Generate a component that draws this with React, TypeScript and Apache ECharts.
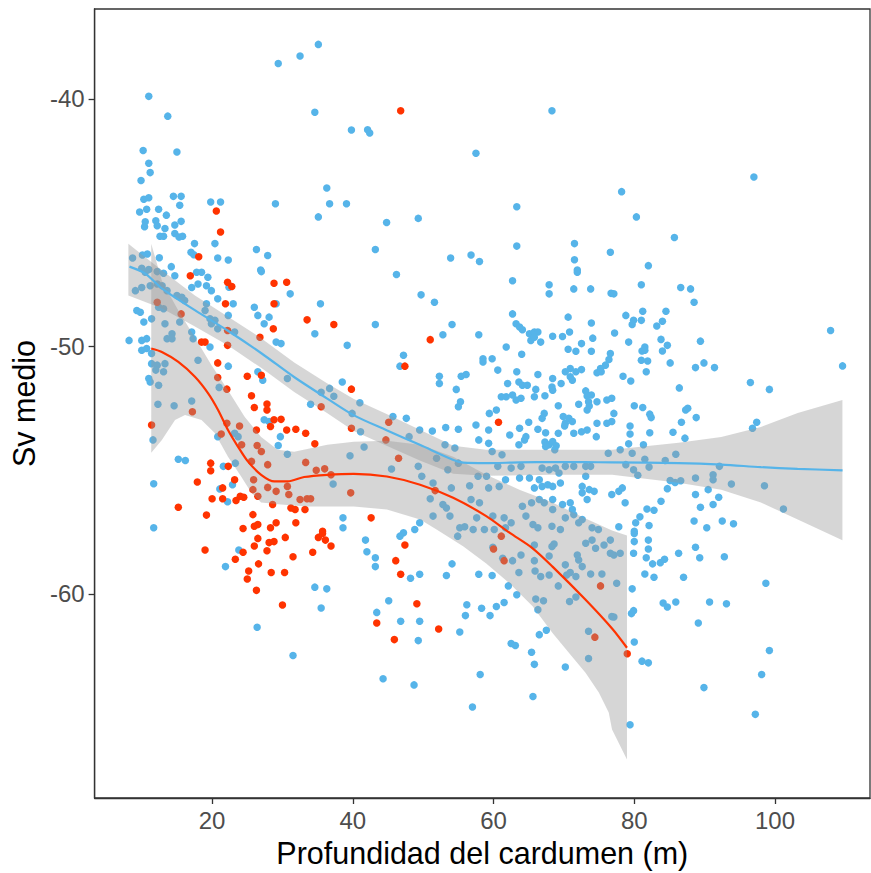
import React, { useEffect, useRef } from "react";
import * as echarts from "echarts";

// Sv medio (dB) against school depth (m), by group
const bluePoints: [number, number][] = [
  [35.1,-37.8],[32.5,-38.27],[29.4,-38.57],[11.0,-39.9],[13.7,-40.7],[34.6,-40.54],[39.8,-41.26],[10.2,-42.09],[15.0,-42.15],[11.0,-42.6],[11.2,-42.98],[9.9,-43.3],[36.3,-43.6],[29.0,-44.24],[36.7,-44.24],[39.1,-44.24],[35.1,-44.77],[10.3,-44.06],[11.0,-44.0],[14.5,-43.94],[15.6,-43.94],[15.4,-44.3],[19.8,-44.17],[21.2,-44.17],[9.7,-44.57],[10.7,-44.46],[12.4,-44.46],[13.5,-44.7],[10.5,-44.97],[10.4,-45.17],[12.0,-44.93],[12.2,-45.13],[13.3,-45.24],[14.7,-45.1],[15.6,-44.95],[12.6,-45.55],[13.1,-45.55],[14.7,-45.44],[15.3,-45.58],[15.8,-45.55],[17.5,-45.85],[20.4,-45.85],[17.0,-46.2],[17.4,-46.3],[20.8,-46.43],[22.3,-46.51],[26.3,-46.09],[27.9,-46.33],[8.7,-46.43],[10.1,-46.31],[10.8,-46.27],[12.5,-46.42],[14.2,-46.78],[26.9,-46.92],[10.0,-46.85],[11.0,-46.9],
  [42.1,-41.25],[42.4,-41.38],[68.3,-40.48],[57.5,-42.2],[63.3,-44.36],[44.8,-45.0],[49.3,-44.83],[43.2,-46.09],[53.9,-46.43],[56.8,-46.31],[58.0,-46.57],[63.3,-45.95],[71.5,-45.85],[71.5,-46.5],[71.9,-46.92],[76.6,-46.2],
  [97.0,-43.16],[78.2,-43.75],[80.3,-44.77],[85.7,-45.6],[82.0,-46.74],
  [10.5,-47.01],[12.2,-46.98],[13.1,-47.05],[14.7,-47.15],[17.8,-47.01],[18.5,-47.01],[19.4,-47.21],[27.0,-46.98],[22.4,-47.61],[31.1,-47.88],[9.1,-47.75],[10.0,-47.62],[11.2,-47.55],[12.2,-47.48],[12.9,-47.55],[13.6,-47.75],[15.0,-47.95],[15.7,-48.02],[16.1,-48.15],[17.1,-47.62],[18.0,-47.48],[19.2,-47.55],[19.9,-47.75],[20.8,-48.08],[23.0,-48.28],[22.3,-48.75],[19.2,-48.28],[19.0,-48.55],[19.7,-48.89],[20.4,-48.95],[19.9,-49.09],[20.8,-49.29],[9.3,-48.55],[9.8,-48.62],[10.3,-49.02],[11.4,-48.89],[12.4,-48.42],[13.1,-48.48],[15.4,-49.02],[13.3,-49.09],[14.3,-49.49],[13.6,-49.69],[14.3,-49.69],[8.2,-49.76],[10.0,-49.76],[10.7,-49.69],[10.0,-50.16],[10.7,-50.09],[11.4,-50.29],[17.1,-49.42],[17.3,-49.69],[19.7,-50.03],[23.2,-49.42],[26.0,-48.42],[26.5,-48.75],[27.4,-49.09],[28.1,-48.82],[29.1,-48.28],[35.4,-48.28],[34.6,-49.49],[29.1,-49.83],[29.8,-49.89],[39.2,-49.96],[18.0,-50.56],[11.4,-50.7],[12.2,-50.76],[13.3,-50.7],[13.1,-51.03],[12.0,-50.96],[11.0,-51.3],[11.2,-51.44],[12.4,-51.57],[22.3,-50.8],[26.5,-51.03],[27.2,-51.37],[21.0,-51.66],[30.7,-51.3],[38.5,-51.44],[36.7,-51.7],[35.5,-51.86],[34.0,-52.34],[37.3,-52.02],[39.9,-52.71],[17.1,-52.21],[14.6,-52.4],[12.3,-52.34],[11.6,-53.78],[27.4,-52.97],[28.1,-53.04],[23.2,-53.51],[23.7,-53.65],[20.8,-53.65],[29.7,-53.65],[29.4,-54.01],[30.7,-54.36],[15.2,-54.56],[16.2,-54.61],[11.7,-55.55],[21.6,-54.85],[23.3,-54.72],[21.1,-55.76],[22.9,-55.59],[22.2,-56.28],[37.2,-55.56],[11.7,-57.33],[38.6,-56.93],[38.6,-57.33],[39.6,-54.42],
  [23.8,-58.23],[21.9,-58.9],[34.6,-59.73],[36.3,-59.8],[35.5,-60.57],[26.4,-61.35],[31.5,-62.49],
  [46.2,-47.1],[62.7,-47.35],[71.9,-47.01],[67.9,-47.51],[67.9,-47.88],[71.4,-47.68],[73.8,-47.68],[76.7,-47.86],[49.7,-47.92],[51.6,-48.22],[43.2,-49.12],[54.1,-49.12],[52.8,-49.53],[57.9,-49.53],[62.7,-48.69],[63.2,-49.09],[63.7,-49.22],[64.1,-49.33],[65.1,-49.49],[65.8,-49.42],[66.3,-49.42],[65.3,-49.76],[65.8,-49.63],[66.7,-49.83],[68.4,-49.59],[69.8,-49.6],[70.8,-49.42],[70.6,-48.82],[73.9,-49.06],[74.1,-49.67],[72.5,-49.89],[61.8,-50.03],[47.2,-50.36],[46.7,-50.8],[58.5,-50.5],[58.5,-50.63],[59.8,-50.5],[64.0,-50.32],[70.6,-50.12],[71.7,-50.2],[73.9,-50.2],[76.6,-50.29],[76.4,-50.53],[75.9,-50.76],[75.2,-50.9],[74.7,-51.07],[75.3,-51.03],[60.6,-50.96],[63.3,-51.03],[66.3,-51.14],[70.2,-51.03],[70.9,-50.9],[71.7,-51.03],[72.5,-50.94],[68.4,-51.3],[70.9,-51.23],[71.2,-51.37],[52.3,-51.21],[52.3,-51.5],[55.4,-51.21],[56.1,-51.14],[54.7,-51.74],[62.0,-51.5],[63.6,-51.44],[64.1,-51.57],[64.8,-51.57],[66.0,-51.74],[68.3,-51.64],[68.4,-51.77],[69.6,-51.5],[73.1,-51.8],[73.3,-52.01],[73.9,-51.97],[74.7,-52.24],[73.5,-52.24],[73.6,-52.41],[73.3,-52.57],[76.1,-52.17],[76.8,-52.1],[61.1,-52.04],[61.8,-52.04],[62.7,-51.97],[63.2,-52.17],[63.9,-52.1],[65.8,-52.04],[67.3,-52.0],[55.3,-52.24],[55.0,-52.44],[69.2,-52.4],[72.1,-52.34],[67.2,-52.71],[66.9,-52.91],[69.9,-52.84],[70.2,-53.11],[70.7,-52.91],[71.2,-53.04],[70.1,-53.22],[59.4,-52.71],[60.4,-52.57],[45.7,-52.84],[47.6,-52.91],[57.5,-53.18],[59.3,-53.38],[53.2,-53.28],[55.0,-53.35],[51.3,-53.42],[49.5,-53.38],[62.3,-53.58],[63.7,-53.31],[65.0,-53.07],[66.3,-53.35],[67.4,-53.49],[69.2,-53.51],[71.4,-53.51],[72.5,-53.45],[73.3,-53.38],[74.7,-53.11],[76.1,-53.11],[76.8,-53.04],[74.6,-53.65],[57.9,-53.78],[59.3,-53.92],[63.6,-53.98],[64.4,-53.78],[64.6,-53.65],[67.3,-53.87],[67.9,-53.98],[68.4,-53.85],[68.9,-54.02],[68.7,-54.18],[67.4,-54.05],[41.0,-52.28],[41.1,-53.45],[41.6,-54.07],[48.0,-53.65],[53.1,-53.98],[54.5,-54.11],[51.9,-54.52],[53.5,-54.99],[55.0,-54.72],[45.5,-54.96],[49.3,-54.85],[49.8,-55.25],[57.8,-55.25],[59.0,-55.25],[59.8,-54.25],[61.2,-54.38],[60.6,-54.85],[61.7,-55.39],[63.7,-55.32],[65.1,-55.32],[66.5,-55.39],[62.5,-54.92],[63.9,-54.85],[66.9,-54.92],[67.9,-54.99],[68.8,-54.92],[69.3,-55.12],[70.2,-54.85],[71.4,-54.85],[73.1,-54.85],[73.8,-54.85],[73.1,-55.25],[76.3,-54.32],[65.8,-55.72],[66.9,-55.66],[67.7,-55.59],[68.4,-55.66],[69.5,-55.52],[72.6,-55.66],[73.6,-55.79],[74.3,-55.86],[73.3,-56.19],[72.6,-55.92],[68.4,-56.19],[69.8,-56.39],[70.9,-56.32],[71.2,-56.59],[65.4,-56.32],[66.5,-56.19],[67.2,-56.32],[68.4,-56.59],[70.2,-56.93],[71.4,-56.8],[72.6,-57.0],[64.1,-56.46],[64.6,-56.86],[65.6,-57.2],[66.3,-57.33],[68.3,-57.27],[69.5,-57.4],[72.1,-57.13],[74.0,-57.33],[74.9,-57.4],[54.0,-55.72],[56.6,-55.63],[59.3,-55.72],[60.8,-55.66],[51.0,-56.16],[51.4,-55.52],[52.8,-56.39],[53.3,-56.53],[53.8,-56.86],[56.8,-56.19],[58.0,-56.32],[57.6,-56.93],[59.9,-56.86],[61.5,-56.93],[62.5,-57.13],[51.4,-56.86],[49.5,-57.13],[48.8,-57.4],[47.2,-57.53],[55.2,-57.33],[55.9,-57.29],[57.1,-57.4],[58.7,-57.4],[60.1,-57.4],[61.7,-57.33],
  [81.0,-47.51],[86.6,-47.62],[88.0,-47.68],[88.5,-48.22],[77.1,-47.88],[78.8,-48.75],[79.9,-48.95],[79.7,-49.12],[81.0,-48.95],[81.2,-48.58],[83.2,-49.18],[84.0,-48.99],[84.5,-48.58],[77.2,-49.46],[79.2,-49.83],[81.5,-50.03],[81.1,-50.19],[81.5,-50.16],[81.0,-50.56],[81.9,-50.59],[81.7,-51.03],[83.8,-49.72],[84.7,-49.96],[84.0,-50.19],[85.1,-50.67],[89.4,-49.79],[88.7,-50.86],[89.9,-50.67],[91.4,-50.86],[107.9,-49.36],[109.6,-50.79],[96.5,-51.46],[99.2,-51.74],[78.4,-51.21],[79.5,-51.4],[86.4,-51.68],[77.1,-52.71],[80.0,-52.4],[81.2,-52.47],[82.2,-52.74],[82.4,-52.88],[87.3,-52.57],[87.6,-52.5],[88.8,-52.88],[86.7,-53.07],[85.5,-53.47],[87.2,-53.71],[79.4,-53.22],[79.4,-53.54],[82.2,-53.49],[79.2,-53.94],[81.3,-53.98],[97.4,-53.07],[96.8,-53.31],[78.0,-54.18],[79.7,-54.32],[81.5,-54.56],[82.1,-54.88],[84.4,-54.61],[85.9,-54.36],[78.8,-54.78],[79.9,-54.99],[80.5,-55.21],[92.1,-54.85],[91.2,-55.19],[91.2,-55.39],[88.7,-55.32],[93.8,-55.56],[98.5,-55.63],[101.2,-56.57],[85.1,-55.42],[85.8,-55.5],[86.6,-55.43],[84.7,-55.75],[76.8,-55.99],[77.8,-55.86],[78.3,-55.72],[78.7,-56.32],[88.7,-55.99],[90.5,-55.79],[92.0,-56.1],[91.2,-56.39],[89.4,-56.5],[83.8,-56.26],[81.8,-56.57],[82.8,-56.62],[80.8,-56.89],[80.2,-57.13],[82.1,-57.24],[77.8,-57.29],[80.0,-57.47],[88.5,-57.06],[90.3,-57.33],[92.5,-57.06],[94.1,-57.17],
  [41.8,-57.83],[42.0,-58.3],[43.2,-58.54],[43.2,-58.9],[46.7,-57.67],[48.2,-59.37],[49.5,-59.21],[54.1,-58.79],[53.3,-59.26],[57.9,-59.21],[59.8,-59.26],[62.1,-59.68],[63.3,-60.04],[45.1,-60.28],[43.4,-60.75],[46.8,-61.11],[49.5,-61.11],[49.3,-61.89],[56.2,-60.44],[56.0,-60.88],[55.2,-61.54],[58.3,-60.58],[59.5,-60.88],[60.4,-60.51],[61.5,-60.35],[62.5,-62.01],[63.1,-62.09],[65.4,-62.36],[65.8,-62.85],[66.5,-61.65],[67.5,-61.47],[70.2,-62.96],[44.3,-63.43],[48.7,-63.68],[58.1,-63.26],[57.0,-64.57],[65.6,-64.15],[54.9,-57.67],[59.9,-58.12],[61.3,-58.56],[62.7,-58.66],[63.9,-58.43],[65.8,-58.03],[65.8,-58.66],[63.6,-59.14],[65.9,-59.08],[66.7,-59.3],[67.9,-59.24],[67.9,-58.47],[68.3,-58.09],[68.6,-57.99],[66.0,-60.21],[67.1,-60.28],[66.3,-60.64],[69.2,-59.68],[70.8,-60.31],[71.7,-60.13],[70.4,-59.24],[70.9,-59.14],[71.7,-59.3],[70.2,-58.83],[72.1,-58.63],[72.6,-58.9],[73.8,-59.2],[73.1,-57.96],[74.0,-57.83],[74.5,-58.16],[75.7,-58.03],[76.6,-57.83],[75.4,-59.2],[76.6,-58.36],[71.9,-58.43],[76.8,-60.92],[73.5,-61.51],[73.5,-62.61],
  [80.0,-57.56],[80.0,-57.89],[82.0,-57.83],[82.0,-58.19],[79.9,-58.36],[78.0,-58.36],[77.1,-58.43],[81.7,-58.54],[82.6,-58.79],[83.7,-58.74],[84.3,-58.6],[86.3,-58.36],[88.7,-58.12],[89.3,-58.54],[92.8,-58.5],[81.5,-59.2],[82.8,-59.33],[87.0,-59.33],[77.5,-59.57],[79.7,-59.8],[98.7,-59.57],[84.1,-60.37],[84.7,-60.53],[85.9,-60.33],[90.7,-60.33],[93.1,-60.4],[79.6,-60.8],[79.9,-60.68],[77.1,-60.94],[89.1,-61.18],[80.0,-61.95],[81.1,-62.72],[82.0,-62.79],[99.2,-62.29],[98.1,-63.26],[89.9,-63.79],[97.2,-64.87],[79.4,-65.29],
];

const redPoints: [number, number][] = [
  [20.6,-44.53],[21.2,-45.38],[18.1,-46.38],[46.8,-40.48],
  [16.9,-47.15],[22.2,-47.41],[22.8,-47.58],[28.8,-47.45],[30.6,-47.41],[21.9,-48.28],[12.2,-48.22],[15.6,-48.69],[18.5,-49.83],[19.0,-49.83],[22.2,-49.36],[22.2,-49.96],[26.8,-49.63],[28.8,-48.28],[28.7,-49.29],[33.5,-48.93],[37.3,-49.12],[20.8,-50.67],[20.8,-51.26],[25.0,-51.21],[27.0,-51.17],[22.1,-51.73],[25.6,-52.0],[26.0,-52.47],[27.8,-52.33],[27.8,-52.57],[39.8,-51.73],[35.5,-52.44],[17.2,-52.64],[11.4,-53.18],[28.8,-52.97],[29.8,-52.95],[28.3,-53.24],[22.1,-53.11],[23.9,-53.22],[21.3,-53.54],[26.3,-53.38],[30.6,-53.38],[31.9,-53.35],[33.3,-53.51],[34.6,-53.94],[24.2,-53.98],[26.4,-54.01],[27.0,-54.25],[19.8,-54.72],[19.8,-55.03],[22.3,-54.85],[17.9,-55.48],[23.2,-55.39],[21.5,-55.72],[20.0,-56.16],[21.5,-56.16],[23.4,-56.23],[24.0,-56.06],[24.5,-56.1],[25.6,-54.65],[25.9,-55.39],[25.8,-55.79],[26.5,-56.06],[27.9,-54.78],[27.9,-55.7],[29.1,-55.86],[30.7,-55.66],[30.9,-55.99],[33.3,-54.69],[34.8,-55.01],[36.0,-54.95],[36.9,-55.19],[32.5,-56.19],[33.5,-56.16],[34.0,-56.16],[33.2,-56.59],[31.2,-56.53],[31.8,-56.59],[28.6,-56.39],[25.8,-56.8],[15.2,-56.5],[19.2,-56.82],[24.4,-57.36],[26.0,-57.27],[26.5,-57.2],[28.3,-57.33],[29.1,-57.13],[31.9,-57.13],[35.7,-57.47],[39.7,-55.92],[39.8,-53.31],
  [19.0,-58.23],[24.4,-58.32],[23.3,-58.6],[25.2,-59.08],[25.0,-59.4],[26.6,-58.79],[26.0,-58.07],[26.5,-57.76],[27.8,-58.26],[28.1,-57.93],[28.8,-57.89],[28.4,-59.14],[30.3,-59.14],[30.4,-57.72],[31.5,-58.5],[26.3,-59.86],[30.0,-60.45],[34.3,-58.32],[35.1,-57.72],[36.1,-57.83],[36.9,-58.07],[35.7,-57.56],
  [51.0,-49.73],[47.4,-50.8],[60.7,-53.07],[45.1,-53.07],[44.7,-53.78],[46.5,-54.52],[42.6,-56.93],[51.7,-55.83],
  [47.4,-58.03],[46.1,-58.66],[46.8,-59.21],[49.1,-60.4],[43.4,-61.18],[45.9,-61.85],[52.2,-61.42],[61.1,-57.67],[60.0,-58.19],[61.5,-58.66],[75.2,-59.68],[74.4,-61.75],
  [79.0,-62.42],
];

// Loess fits
const blueFit: [number, number][] = [
  [8.26,-46.78],[10.5,-47.06],[12.9,-47.67],[17.6,-48.55],[22.2,-49.36],[27.0,-50.28],[31.7,-51.25],[36.3,-52.1],[40.1,-52.78],[44.8,-53.39],[49.6,-53.99],[54.3,-54.59],[55.7,-54.7],[58.9,-54.72],[63.7,-54.69],[68.4,-54.68],[73.0,-54.68],[76.8,-54.69],[86.3,-54.72],[92.4,-54.78],[98.0,-54.88],[103.2,-54.95],[109.6,-55.01],
];
const redFit: [number, number][] = [
  [11.35,-50.09],[12.86,-50.23],[15.2,-50.63],[17.56,-51.23],[19.44,-51.9],[20.85,-52.57],[22.26,-53.38],[23.67,-54.05],[25.08,-54.65],[26.97,-55.19],[28.85,-55.46],[30.73,-55.46],[33.08,-55.28],[36.37,-55.19],[40.14,-55.15],[44.84,-55.26],[49.56,-55.59],[54.26,-56.12],[58.96,-56.86],[62.26,-57.53],[65.55,-58.16],[68.38,-58.9],[73.08,-60.24],[76.84,-61.4],[78.96,-62.18],
];

// Confidence bands (upper and lower edges)
const blueUpper: [number, number][] = [
  [8.1,-45.86],[12.9,-46.94],[17.56,-47.95],[22.22,-48.79],[27.02,-49.68],[31.67,-50.65],[36.33,-51.49],[40.14,-52.13],[44.8,-52.73],[49.6,-53.38],[54.26,-54.02],[58.91,-54.18],[68.38,-54.18],[76.84,-54.18],[86.3,-53.9],[92.36,-53.66],[98.0,-53.26],[103.23,-52.69],[109.58,-52.17],
];
const blueLower: [number, number][] = [
  [8.1,-47.95],[12.9,-48.47],[17.56,-49.2],[22.22,-49.96],[27.02,-50.88],[31.67,-51.85],[36.33,-52.69],[40.14,-53.42],[44.8,-54.02],[49.6,-54.62],[54.26,-55.15],[58.91,-55.23],[68.38,-55.19],[76.84,-55.19],[86.3,-55.51],[92.36,-55.79],[98.0,-56.31],[103.23,-57.0],[109.58,-57.84],
];
const redUpper: [number, number][] = [
  [11.35,-45.86],[12.86,-47.35],[15.2,-48.55],[17.56,-49.64],[19.92,-50.76],[22.26,-51.77],[24.62,-52.85],[26.97,-53.66],[29.32,-54.18],[31.67,-54.26],[36.37,-53.98],[40.14,-53.86],[44.84,-53.82],[49.56,-53.98],[54.26,-54.46],[58.96,-55.19],[63.67,-55.79],[68.38,-56.31],[73.07,-56.96],[76.84,-57.44],[78.96,-57.64],
];
const redLower: [number, number][] = [
  [11.35,-54.3],[12.86,-53.78],[14.73,-52.98],[16.15,-52.77],[18.5,-52.98],[20.38,-53.5],[22.26,-54.46],[24.15,-55.27],[25.56,-55.91],[26.97,-56.31],[29.8,-56.39],[33.55,-56.47],[40.14,-56.47],[44.84,-56.59],[49.56,-57.0],[51.9,-57.4],[55.67,-58.08],[58.96,-58.77],[62.26,-59.57],[65.55,-60.5],[68.38,-61.58],[70.73,-62.39],[73.07,-63.19],[74.96,-63.99],[76.37,-64.8],[76.84,-65.48],[78.96,-66.69],
];

const xTicks = [20, 40, 60, 80, 100];
const yTicks = [-60, -50, -40];

const BLUE = "#56B4E9";
const RED = "#FF3300";
const FONT = "'Liberation Sans', Arial, sans-serif";

function bandSeries(upper: [number, number][], lower: [number, number][]) {
  return {
    type: "custom",
    coordinateSystem: "cartesian2d",
    data: [[50, -50]],
    silent: true,
    z: 3,
    renderItem: (_params: any, api: any) => {
      const outline = [...upper, ...lower.slice().reverse()];
      const points = outline.map((p) => api.coord(p));
      return {
        type: "polygon",
        shape: { points },
        style: { fill: "rgba(153,153,153,0.4)", stroke: "none" },
      };
    },
  };
}

export default function App() {
  const ref = useRef<HTMLDivElement>(null);

  useEffect(() => {
    if (!ref.current) return;
    const chart = echarts.init(ref.current, undefined, { renderer: "svg" });
    chart.setOption({
      animation: false,
      backgroundColor: "#ffffff",
      grid: {
        left: 89,
        top: 9,
        width: 781,
        height: 793,
        show: true,
        borderColor: "#333333",
        borderWidth: 1.3,
        containLabel: false,
      },
      xAxis: {
        type: "value",
        min: 3.3,
        max: 113.5,
        name: "Profundidad del cardumen (m)",
        nameLocation: "middle",
        nameGap: 39,
        nameTextStyle: { fontSize: 30.5, color: "#000000", fontFamily: FONT },
        axisLine: { show: true, onZero: false, lineStyle: { color: "#333333", width: 1.3 } },
        axisTick: { show: true, length: 6, lineStyle: { color: "#333333", width: 1.3 }, customValues: xTicks },
        axisLabel: { color: "#4D4D4D", fontSize: 24, fontFamily: FONT, margin: 10, customValues: xTicks },
        splitLine: { show: false },
      },
      yAxis: {
        type: "value",
        min: -68.25,
        max: -36.37,
        name: "Sv medio",
        nameLocation: "middle",
        nameGap: 55,
        nameRotate: 90,
        nameTextStyle: { fontSize: 30.5, color: "#000000", fontFamily: FONT },
        axisLine: { show: true, onZero: false, lineStyle: { color: "#333333", width: 1.3 } },
        axisTick: { show: true, length: 6, lineStyle: { color: "#333333", width: 1.3 }, customValues: yTicks },
        axisLabel: { color: "#4D4D4D", fontSize: 24, fontFamily: FONT, margin: 10, customValues: yTicks },
        splitLine: { show: false },
      },
      series: [
        {
          type: "scatter",
          data: bluePoints,
          symbolSize: 7.5,
          itemStyle: { color: BLUE, opacity: 1 },
          z: 2,
          silent: true,
        },
        {
          type: "scatter",
          data: redPoints,
          symbolSize: 7.5,
          itemStyle: { color: RED, opacity: 1 },
          z: 2,
          silent: true,
        },
        bandSeries(blueUpper, blueLower),
        bandSeries(redUpper, redLower),
        {
          type: "line",
          data: blueFit,
          showSymbol: false,
          smooth: 0.3,
          lineStyle: { color: BLUE, width: 2.2 },
          z: 4,
          silent: true,
        },
        {
          type: "line",
          data: redFit,
          showSymbol: false,
          smooth: 0.3,
          lineStyle: { color: RED, width: 2.2 },
          z: 4,
          silent: true,
        },
      ],
    });
    return () => chart.dispose();
  }, []);

  return (
    <div
      ref={ref}
      style={{ position: "absolute", left: 0, top: 0, width: 871, height: 873, background: "#fff" }}
    />
  );
}
